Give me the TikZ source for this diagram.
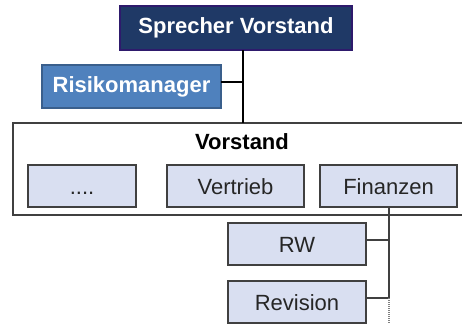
\documentclass[tikz,border=0pt]{standalone}
\usepackage{fontspec}
\setmainfont{Liberation Sans}
\definecolor{navy}{HTML}{1F3966}
\definecolor{navyborder}{HTML}{2E1A6C}
\definecolor{midblue}{HTML}{4F81BD}
\definecolor{midborder}{HTML}{3A5F8C}
\definecolor{lightbox}{HTML}{D9DFF1}
\definecolor{darkline}{HTML}{404040}
\definecolor{txtgray}{HTML}{262626}
\begin{document}
\begin{tikzpicture}[x=1pt,y=-1pt,
  every node/.style={inner sep=0pt, outer sep=0pt},
  topbox/.style={draw=navyborder, fill=navy, line width=1.6pt, text=white,
    font=\fontsize{22}{24}\selectfont\bfseries, minimum width=232pt, minimum height=44pt},
  riskbox/.style={draw=midborder, fill=midblue, line width=1.6pt, text=white,
    font=\fontsize{22}{24}\selectfont\bfseries, minimum width=179pt, minimum height=43pt},
  unitbox/.style={draw=darkline, fill=lightbox, line width=1.2pt, text=txtgray,
    font=\fontsize{22}{24}\selectfont, minimum width=137pt, minimum height=42pt,
    text height=16pt, text depth=0pt},
  frame/.style={draw=darkline, fill=white, line width=1.2pt, minimum width=470pt, minimum height=92pt},
  conn/.style={line width=1.6pt, black},
  gconn/.style={line width=1.2pt, darkline}
]
\useasboundingbox (0,0) rectangle (462,324);
% frame first
\node[frame] (vo) at (248,169) {};
\node[font=\fontsize{22}{24}\selectfont\bfseries] (vt) at (242,142) {Vorstand};
\node[topbox] (sv) at (236,28) {Sprecher Vorstand};
\node[riskbox] (rm) at (131.5,86.5) {Risikomanager};
\node[unitbox, minimum width=108pt] (dots) at (82,186) {....};
\node[unitbox] (vert) at (235.5,186) {Vertrieb};
\node[unitbox] (fin) at (388.5,186) {Finanzen};
\node[unitbox, minimum width=138pt] (rw) at (297,244) {RW};
\node[unitbox, minimum width=138pt] (rev) at (297,302) {Revision};
\coordinate (spine) at (243,82);
\coordinate (fx) at (389,298);
\coordinate (fend) at (389,323);
% top connectors
\draw[conn] (sv.south -| spine) -- (vo.north -| spine);
\draw[conn] (rm.east |- spine) -- (spine);
% bottom connectors
\draw[gconn] (fin.south -| fx) -- (fx);
\draw[gconn] ([yshift=4pt]rw.east) -- ([yshift=4pt]rw.east -| fx);
\draw[gconn] (rev.east |- fx) -- (fx);
\draw[gconn, line width=1.6pt, dash pattern=on 1pt off 1pt, gray] (fx) -- (fend);
\end{tikzpicture}
\end{document}
